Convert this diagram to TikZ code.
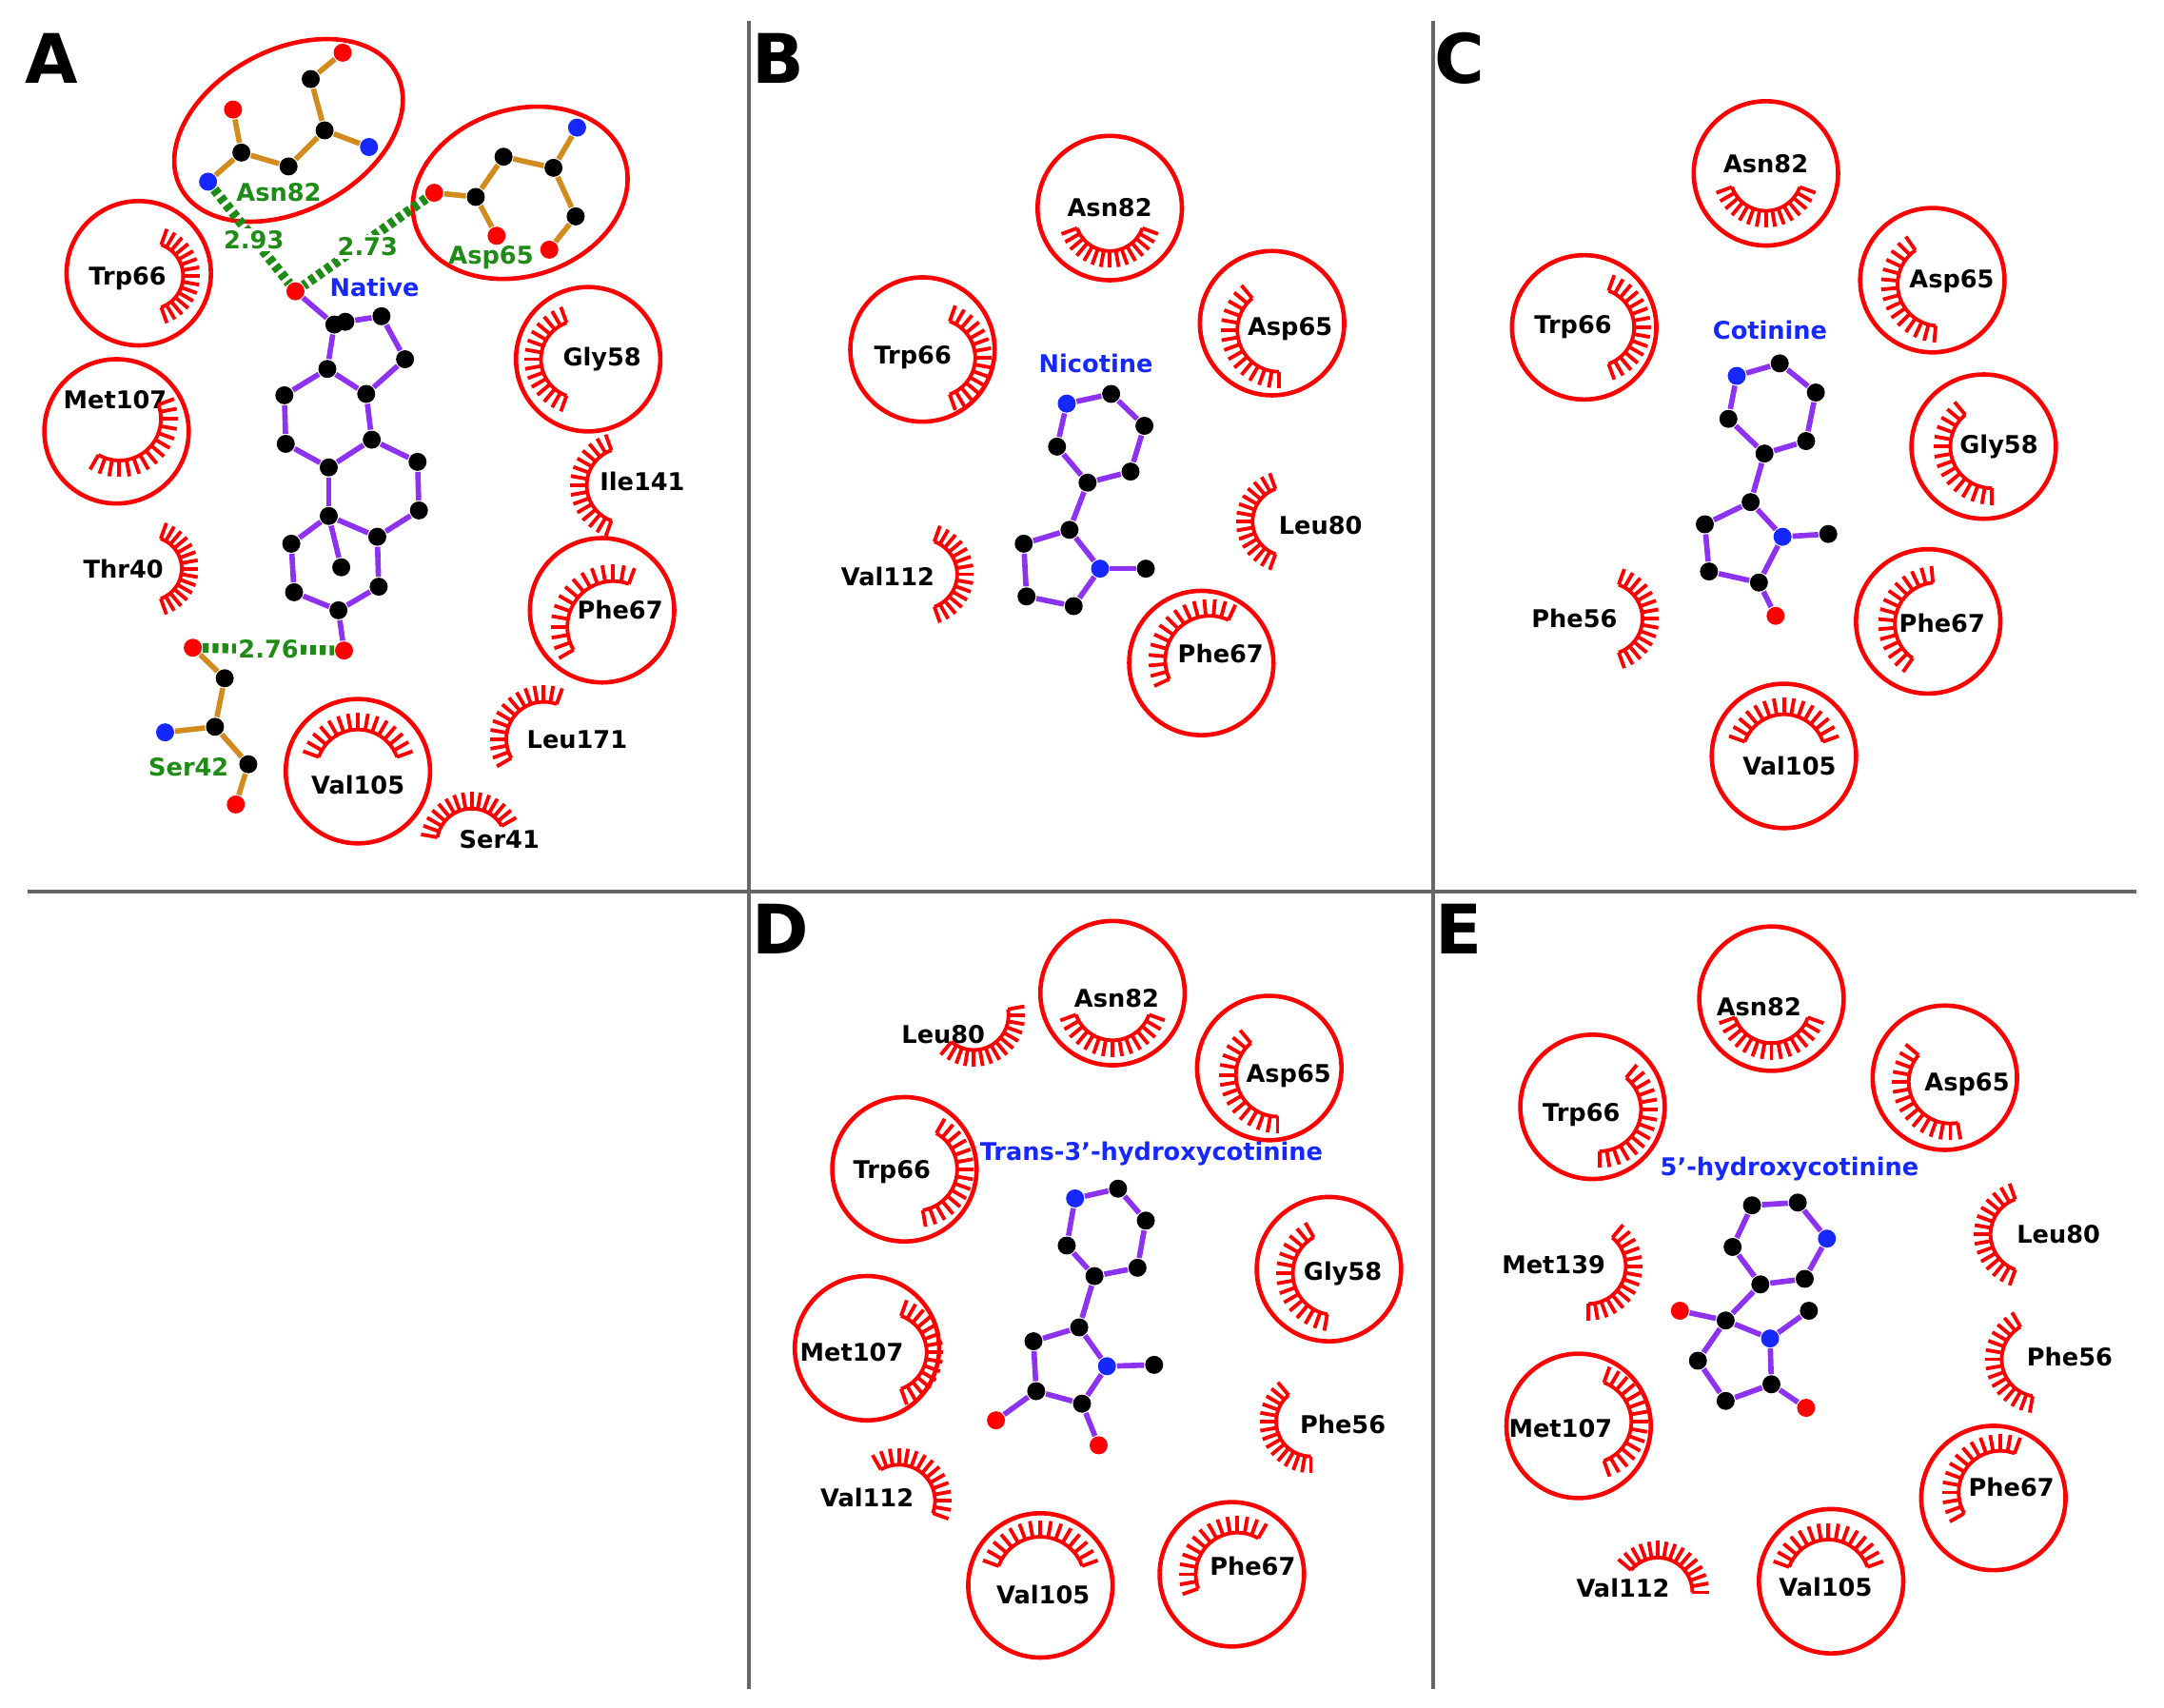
\documentclass[tikz,border=0pt]{standalone}
\usepackage{fontspec}
\setmainfont{DejaVu Sans}
\usetikzlibrary{positioning}
\definecolor{lig}{RGB}{140,50,240}
\definecolor{sidech}{RGB}{210,140,30}
\definecolor{hbgreen}{RGB}{30,140,20}
\definecolor{atomblue}{RGB}{20,40,255}
\tikzset{
  atom/.style={circle, inner sep=0pt, minimum size=0.13cm, fill=black},
  cat/.style={atom},
  nat/.style={atom, fill=atomblue},
  oat/.style={atom, fill=red},
  bond/.style={line width=1.1pt, lig},
  sbond/.style={line width=1.1pt, sidech},
  hbond/.style={line width=2pt, hbgreen, dash pattern=on 1.2pt off 0.8pt},
  res/.style={circle, draw=red, line width=0.9pt, minimum size=1.04cm, inner sep=0pt},
  resname/.style={font=\fontsize{5}{6}\selectfont\bfseries, text=black, inner sep=0pt},
  glabel/.style={resname, text=hbgreen},
  ligname/.style={resname, text=atomblue},
  lashline/.style={red, line width=0.75pt},
  panel/.style={font=\fontsize{14}{14}\selectfont\bfseries, inner sep=0pt},
  divider/.style={gray!80!black, line width=0.8pt}
}
% eyelash: centre, direction, radius
\newcommand\lash[3]{%
  \draw[lashline, shift={(#1)}] ({#2-70}:#3) arc[start angle={#2-70}, end angle={#2+70}, radius=#3];
  \foreach \t in {-70,-60,...,70}
    \draw[lashline, shift={(#1)}] ({#2+\t}:#3) -- ({#2+\t}:{#3+0.12cm});
}
\begin{document}
\begin{tikzpicture}[x=0.01cm, y=-0.01cm]
\useasboundingbox (0,0) rectangle (1560,1231);

% panel frame
\coordinate (hl) at (20,643);  \coordinate (hr) at (1540,643);
\coordinate (v1t) at (540,15); \coordinate (v1b) at (540,1218);
\coordinate (v2t) at (1033,15); \coordinate (v2b) at (1033,1218);
\draw[divider] (hl) -- (hr);
\draw[divider] (v1t) -- (v1b);
\draw[divider] (v2t) -- (v2b);
\node[panel] (pA) at (37,42) {A};
\node[panel] (pB) at (561,42) {B};
\node[panel] (pC) at (1052,42) {C};
\node[panel] (pD) at (563,670) {D};
\node[panel] (pE) at (1052,670) {E};

%%%%% A
\draw[red, line width=0.9pt, rotate around={28:(208,94)}] (208,94) ellipse [x radius=0.88cm, y radius=0.58cm];
\draw[red, line width=0.9pt, rotate around={18:(375,139)}] (375,139) ellipse [x radius=0.79cm, y radius=0.6cm];
\foreach \n/\x/\y/\s in {1/247/38/oat,2/224/57/cat,3/234/94/cat,4/266/106/nat,5/208/120/cat,6/174/110/cat,7/168/79/oat,8/150/131/nat}
  \node[\s] (An\n) at (\x,\y) {};
\foreach \a/\b in {1/2,2/3,3/4,3/5,5/6,6/7,6/8}
  \draw[sbond] (An\a) -- (An\b);
\node[glabel] (asnAl) at (201,139) {Asn82};
\foreach \n/\x/\y/\s in {1/416/92/nat,2/399/121/cat,3/363/113/cat,4/415/156/cat,5/396/180/oat,6/343/142/cat,7/313/139/oat,8/358/170/oat}
  \node[\s] (Ad\n) at (\x,\y) {};
\foreach \a/\b in {1/2,2/3,2/4,4/5,3/6,6/7,6/8}
  \draw[sbond] (Ad\a) -- (Ad\b);
\node[glabel] (aspAl) at (354,186) {Asp65};
% native ligand
\foreach \n/\x/\y/\s in {0/213/210/oat,1/241/234/cat,b/249/232/cat,2/275/228/cat,3/292/259/cat,4/236/266/cat,5/264/284/cat,6/205/285/cat,7/206/320/cat,8/268/317/cat,9/237/337/cat,10/301/333/cat,11/302/368/cat,12/237/372/cat,13/272/387/cat,14/210/392/cat,15/246/409/cat,16/212/427/cat,17/273/423/cat,18/244/440/cat,19/248/469/oat}
  \node[\s] (A\n) at (\x,\y) {};
\foreach \a/\b in {0/1,b/2,2/3,3/5,5/4,4/1,4/6,6/7,7/9,9/8,8/5,8/10,10/11,11/13,13/12,12/9,12/14,12/15,14/16,16/18,18/17,17/13,18/19}
  \draw[bond] (A\a) -- (A\b);
\node[ligname] (natl) at (270,207) {Native};
\foreach \n/\x/\y/\s in {1/139/467/oat,2/162/489/cat,3/155/524/cat,4/119/528/nat,5/179/551/cat,6/170/580/oat}
  \node[\s] (As\n) at (\x,\y) {};
\foreach \a/\b in {1/2,2/3,3/4,3/5,5/6}
  \draw[sbond] (As\a) -- (As\b);
\node[glabel] (serAl) at (136,553) {Ser42};
\draw[hbond] (An8) -- (A0);
\draw[hbond] (Ad7) -- (A0);
\draw[hbond] (As1) -- node[glabel, fill=white, inner sep=0.5pt] {2.76} (A19);
\node[glabel, fill=white, inner sep=0.5pt] (hb1) at (183,173) {2.93};
\node[glabel, fill=white, inner sep=0.5pt] (hb2) at (265,178) {2.73};
% residues A
\node[res] (trpA) at (100,197) {}; \node[resname] at (92,201) {Trp66}; \lash{108,199}{0}{0.24cm}
\node[res] (metA) at (84,311) {}; \node[resname] at (83,288) {Met107}; \lash{86,302}{-50}{0.3cm}
\node[resname] (thrA) at (89,410) {Thr40}; \lash{108,410}{0}{0.23cm}
\node[res] (glyA) at (424,259) {}; \node[resname] at (434,259) {Gly58}; \lash{418,259}{180}{0.28cm}
\node[resname] (ileA) at (463,347) {Ile141}; \lash{450,350}{180}{0.27cm}
\node[res] (pheA) at (434,440) {}; \node[resname] at (447,440) {Phe67}; \lash{442,452}{140}{0.33cm}
\node[res] (valA) at (258,556) {}; \node[resname] at (258,566) {Val105}; \lash{258,556}{90}{0.3cm}
\node[resname] (leuA) at (416,533) {Leu171}; \lash{392,533}{140}{0.27cm}
\node[resname] (serA) at (360,605) {Ser41}; \lash{340,608}{100}{0.25cm}

%%%%% B
\node[res] (asnB) at (800,150) {}; \node[resname] at (800,150) {Asn82}; \lash{800,156}{-90}{0.25cm}
\node[res] (trpB) at (665,252) {}; \node[resname] at (658,258) {Trp66}; \lash{675,258}{0}{0.28cm}
\node[res] (aspB) at (917,233) {}; \node[resname] at (930,237) {Asp65}; \lash{922,238}{200}{0.3cm}
\node[ligname] (nicl) at (790,262) {Nicotine};
\foreach \n/\x/\y/\s in {1/769/291/nat,2/801/284/cat,3/825/307/cat,4/815/340/cat,5/784/348/cat,6/762/322/cat,7/771/382/cat,8/738/392/cat,9/740/430/cat,10/774/437/cat,11/793/410/nat,12/826/410/cat}
  \node[\s] (B\n) at (\x,\y) {};
\foreach \a/\b in {1/2,2/3,3/4,4/5,5/6,6/1,5/7,7/8,8/9,9/10,10/11,11/7,11/12}
  \draw[bond] (B\a) -- (B\b);
\node[resname] (leuB) at (952,379) {Leu80}; \lash{928,376}{180}{0.25cm}
\node[resname] (valB) at (640,416) {Val112}; \lash{665,414}{0}{0.25cm}
\node[res] (pheB) at (866,478) {}; \node[resname] at (880,471) {Phe67}; \lash{872,476}{135}{0.32cm}

%%%%% C
\node[res] (asnC) at (1273,125) {}; \node[resname] at (1273,118) {Asn82}; \lash{1273,126}{-90}{0.26cm}
\node[res] (aspC) at (1393,202) {}; \node[resname] at (1407,203) {Asp65}; \lash{1398,205}{195}{0.3cm}
\node[res] (trpC) at (1142,236) {}; \node[resname] at (1134,236) {Trp66}; \lash{1150,236}{0}{0.28cm}
\node[ligname] (cotl) at (1276,238) {Cotinine};
\node[res] (glyC) at (1430,322) {}; \node[resname] at (1441,322) {Gly58}; \lash{1436,322}{200}{0.3cm}
\foreach \n/\x/\y/\s in {1/1252/271/nat,2/1283/262/cat,3/1309/283/cat,4/1302/318/cat,5/1272/327/cat,6/1246/302/cat,7/1262/362/cat,8/1229/378/cat,9/1232/412/cat,10/1268/420/cat,11/1285/387/nat,12/1318/385/cat,13/1280/444/oat}
  \node[\s] (C\n) at (\x,\y) {};
\foreach \a/\b in {1/2,2/3,3/4,4/5,5/6,6/1,5/7,7/8,8/9,9/10,10/11,11/7,11/12,10/13}
  \draw[bond] (C\a) -- (C\b);
\node[resname] (pheC56) at (1135,446) {Phe56}; \lash{1158,446}{0}{0.26cm}
\node[res] (pheC) at (1390,448) {}; \node[resname] at (1400,449) {Phe67}; \lash{1396,450}{165}{0.3cm}
\node[res] (valC) at (1286,545) {}; \node[resname] at (1290,552) {Val105}; \lash{1286,545}{90}{0.3cm}

%%%%% D
\node[resname] (leuD) at (680,746) {Leu80}; \lash{702,732}{-60}{0.25cm}
\node[res] (asnD) at (802,716) {}; \node[resname] at (805,720) {Asn82}; \lash{802,722}{-90}{0.28cm}
\node[res] (aspD) at (915,770) {}; \node[resname] at (929,776) {Asp65}; \lash{921,775}{200}{0.3cm}
\node[res] (trpD) at (652,843) {}; \node[resname] at (643,845) {Trp66}; \lash{660,843}{-10}{0.3cm}
\node[ligname] (tcotl) at (830,832) {Trans-3'-hydroxycotinine};
\foreach \n/\x/\y/\s in {1/775/864/nat,2/806/857/cat,3/826/880/cat,4/820/914/cat,5/789/920/cat,6/769/898/cat,7/778/957/cat,8/745/967/cat,9/747/1003/cat,10/780/1012/cat,11/798/985/nat,12/832/984/cat,13/718/1024/oat,14/792/1042/oat}
  \node[\s] (D\n) at (\x,\y) {};
\foreach \a/\b in {1/2,2/3,3/4,4/5,5/6,6/1,5/7,7/8,8/9,9/10,10/11,11/7,11/12,9/13,10/14}
  \draw[bond] (D\a) -- (D\b);
\node[res] (glyD) at (958,915) {}; \node[resname] at (968,918) {Gly58}; \lash{962,918}{190}{0.3cm}
\node[res] (metD) at (625,972) {}; \node[resname] at (614,975) {Met107}; \lash{640,975}{0}{0.28cm}
\node[resname] (pheD56) at (968,1027) {Phe56}; \lash{945,1025}{200}{0.25cm}
\node[resname] (valD112) at (625,1080) {Val112}; \lash{648,1082}{50}{0.26cm}
\node[res] (valD) at (750,1143) {}; \node[resname] at (752,1150) {Val105}; \lash{750,1140}{90}{0.32cm}
\node[res] (pheD) at (888,1135) {}; \node[resname] at (903,1129) {Phe67}; \lash{892,1135}{130}{0.3cm}

%%%%% E
\node[res] (asnE) at (1277,720) {}; \node[resname] at (1268,726) {Asn82}; \lash{1277,724}{-90}{0.28cm}
\node[res] (aspE) at (1402,777) {}; \node[resname] at (1418,782) {Asp65}; \lash{1406,780}{210}{0.3cm}
\node[res] (trpE) at (1148,798) {}; \node[resname] at (1140,804) {Trp66}; \lash{1153,800}{-20}{0.3cm}
\node[ligname] (hcotl) at (1290,843) {5'-hydroxycotinine};
\node[resname] (leuE) at (1484,890) {Leu80}; \lash{1462,890}{180}{0.27cm}
\node[resname] (metE139) at (1120,912) {Met139}; \lash{1145,913}{-20}{0.27cm}
\foreach \n/\x/\y/\s in {1/1263/869/cat,2/1296/867/cat,3/1317/893/nat,4/1301/922/cat,5/1269/926/cat,6/1249/899/cat,7/1244/952/cat,8/1211/945/oat,9/1276/965/nat,10/1304/945/cat,11/1224/981/cat,12/1244/1010/cat,13/1277/998/cat,14/1302/1015/oat}
  \node[\s] (E\n) at (\x,\y) {};
\foreach \a/\b in {1/2,2/3,3/4,4/5,5/6,6/1,5/7,7/8,7/9,9/10,7/11,11/12,12/13,13/9,13/14}
  \draw[bond] (E\a) -- (E\b);
\node[resname] (pheE56) at (1492,978) {Phe56}; \lash{1470,980}{190}{0.27cm}
\node[res] (metE) at (1138,1028) {}; \node[resname] at (1125,1030) {Met107}; \lash{1146,1025}{0}{0.3cm}
\node[res] (pheE) at (1437,1080) {}; \node[resname] at (1450,1072) {Phe67}; \lash{1442,1076}{140}{0.3cm}
\node[resname] (valE112) at (1170,1145) {Val112}; \lash{1195,1148}{70}{0.25cm}
\node[res] (valE) at (1320,1140) {}; \node[resname] at (1316,1144) {Val105}; \lash{1318,1140}{90}{0.3cm}
\end{tikzpicture}
\end{document}
